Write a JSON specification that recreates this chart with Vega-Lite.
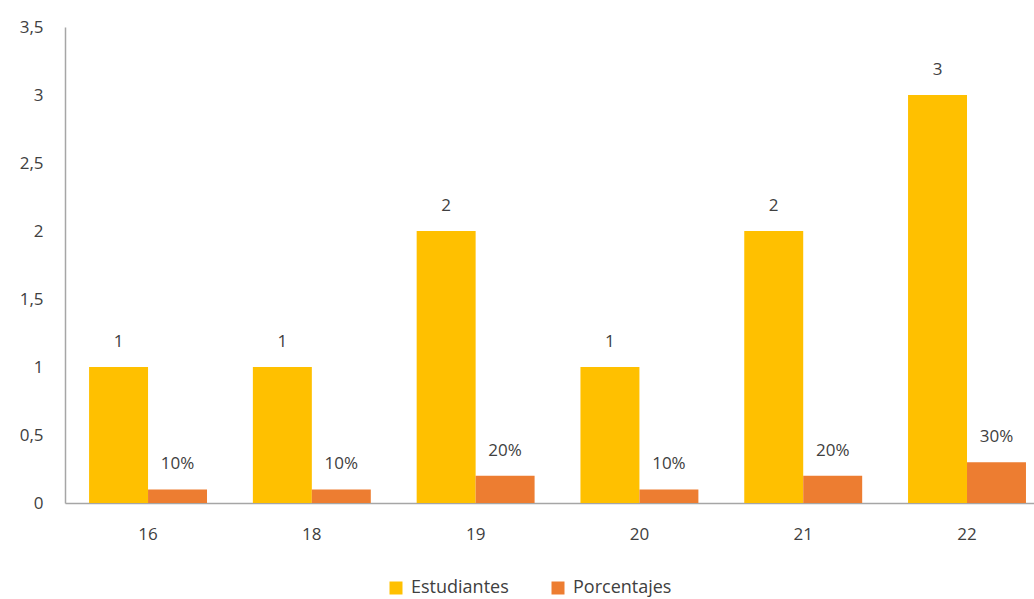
{
  "$schema": "https://vega.github.io/schema/vega-lite/v6.json",
  "autosize": "none",
  "width": 969,
  "height": 476,
  "padding": {"left": 65, "top": 27, "right": 0, "bottom": 96},
  "background": "white",
  "config": {
    "view": {"stroke": null},
    "font": "Open Sans"
  },
  "data": {
    "values": [
      {"edad": "16", "serie": "Estudiantes", "valor": 1, "etiqueta": "1"},
      {"edad": "16", "serie": "Porcentajes", "valor": 0.1, "etiqueta": "10%"},
      {"edad": "18", "serie": "Estudiantes", "valor": 1, "etiqueta": "1"},
      {"edad": "18", "serie": "Porcentajes", "valor": 0.1, "etiqueta": "10%"},
      {"edad": "19", "serie": "Estudiantes", "valor": 2, "etiqueta": "2"},
      {"edad": "19", "serie": "Porcentajes", "valor": 0.2, "etiqueta": "20%"},
      {"edad": "20", "serie": "Estudiantes", "valor": 1, "etiqueta": "1"},
      {"edad": "20", "serie": "Porcentajes", "valor": 0.1, "etiqueta": "10%"},
      {"edad": "21", "serie": "Estudiantes", "valor": 2, "etiqueta": "2"},
      {"edad": "21", "serie": "Porcentajes", "valor": 0.2, "etiqueta": "20%"},
      {"edad": "22", "serie": "Estudiantes", "valor": 3, "etiqueta": "3"},
      {"edad": "22", "serie": "Porcentajes", "valor": 0.3, "etiqueta": "30%"}
    ]
  },
  "encoding": {
    "x": {
      "field": "edad",
      "type": "nominal",
      "sort": null,
      "title": null,
      "scale": {"paddingInner": 0.28, "paddingOuter": 0.098, "align": 0.75},
      "axis": {
        "labelAngle": 0,
        "ticks": false,
        "domainColor": "#A6A6A6",
        "domainWidth": 1.5,
        "labelFontSize": 17,
        "labelColor": "#404040",
        "labelPadding": 23
      }
    },
    "xOffset": {"field": "serie", "type": "nominal", "scale": {"paddingInner": 0, "paddingOuter": 0}},
    "y": {
      "field": "valor",
      "type": "quantitative",
      "title": null,
      "scale": {"domain": [0, 3.5], "nice": false},
      "axis": {
        "values": [0, 0.5, 1, 1.5, 2, 2.5, 3, 3.5],
        "grid": false,
        "ticks": false,
        "domainColor": "#A6A6A6",
        "domainWidth": 1.5,
        "labelFontSize": 17,
        "labelColor": "#404040",
        "labelPadding": 22,
        "labelExpr": "replace(format(datum.value, '~g'), '.', ',')"
      }
    }
  },
  "layer": [
    {
      "mark": {"type": "bar"},
      "encoding": {
        "color": {
          "field": "serie",
          "type": "nominal",
          "scale": {"domain": ["Estudiantes", "Porcentajes"], "range": ["#FFC000", "#ED7D31"]},
          "legend": {
            "title": null,
            "orient": "none",
            "direction": "horizontal",
            "legendX": 322,
            "legendY": 552,
            "symbolType": "square",
            "symbolSize": 169,
            "symbolStrokeWidth": 0,
            "labelFontSize": 18,
            "labelColor": "#404040",
            "labelOffset": 6,
            "columnPadding": 40
          }
        }
      }
    },
    {
      "mark": {"type": "text", "dy": -25, "fontSize": 17, "color": "#404040"},
      "encoding": {
        "text": {"field": "etiqueta"}
      }
    }
  ]
}
